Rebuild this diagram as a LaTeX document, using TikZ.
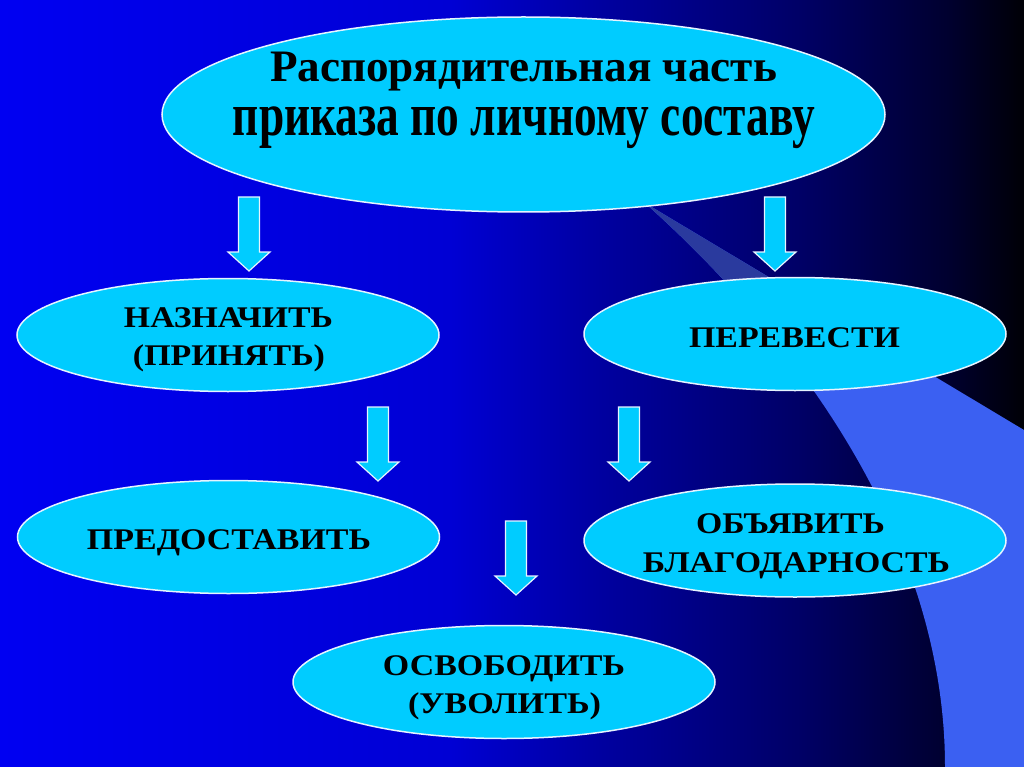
\documentclass[tikz,border=0pt]{standalone}
\usepackage{fontspec}
\setmainfont{Liberation Serif}
\usepackage{graphicx}
\usetikzlibrary{shapes.geometric}
\definecolor{cyanfill}{HTML}{00CCFF}
\definecolor{edgecol}{HTML}{E6F4FF}
\definecolor{bandbright}{HTML}{3B60F2}
\definecolor{banddim}{HTML}{2A3A9E}
\definecolor{bgA}{HTML}{0000F2}
\definecolor{bgB}{HTML}{0000D4}
\definecolor{bgC}{HTML}{0000A0}
\definecolor{bgD}{HTML}{000066}
\definecolor{bgE}{HTML}{00002E}
\definecolor{bgF}{HTML}{000006}
\pgfdeclarehorizontalshading{bgshade}{100bp}{color(0bp)=(bgA); color(25bp)=(bgA); color(46.97bp)=(bgB); color(54.3bp)=(bgC); color(64.06bp)=(bgD); color(71.39bp)=(bgE); color(75bp)=(bgF); color(100bp)=(bgF)}
\tikzset{
  oval/.style={ellipse, draw=edgecol, line width=1.5pt, fill=cyanfill, inner sep=0pt,
    minimum width=422pt, minimum height=113pt},
  blockarrow/.style={fill=cyanfill, draw=edgecol, line width=1.2pt, line join=miter},
  lbl/.style={inner sep=0pt, anchor=base, text=black, font=\fontsize{30}{36}\selectfont\bfseries}
}
\newcommand\fitw[2]{\resizebox{#1pt}{\height}{#2}}
\newcommand\downarrowat[1]{%
  \draw[blockarrow] (#1) ++(-10.5,0) -- ++(21,0) -- ++(0,55) -- ++(10.5,0)
    -- ++(-21,19) -- ++(-21,-19) -- ++(10.5,0) -- cycle;}
\begin{document}
\begin{tikzpicture}[x=1pt,y=-1pt]
\useasboundingbox (0,0) rectangle (1024,767);
% background
\shade[shading=bgshade] (0,0) rectangle (1024,767);
% light band
\fill[bandbright] (645,203) -- (1024,430) -- (1024,767) -- (945,767)
  .. controls (945,537) and (795,337) .. (645,203) -- cycle;
\begin{scope}
  \clip (0,0) rectangle (1024,335);
  \fill[banddim] (645,203) -- (1024,430) -- (1024,767) -- (945,767)
    .. controls (945,537) and (795,337) .. (645,203) -- cycle;
\end{scope}
% ellipses
\node[oval, minimum width=723pt, minimum height=195pt] (top) at (523.5,114.5) {};
\node[oval] (nazn)  at (228,335) {};
\node[oval] (perev) at (795,334) {};
\node[oval] (pred)  at (228.5,537) {};
\node[oval] (obyav) at (795,540.5) {};
\node[oval] (osvob) at (504,682) {};
% arrows
\coordinate (a1) at (249,197);
\coordinate (a2) at (775,197);
\coordinate (a3) at (378,407);
\coordinate (a4) at (629,407);
\coordinate (a5) at (516,521);
\downarrowat{a1}
\downarrowat{a2}
\downarrowat{a3}
\downarrowat{a4}
\downarrowat{a5}
% texts
\node[lbl, font=\fontsize{45}{54}\selectfont\bfseries] (h1) at (523.5,82) {\fitw{507}{Распорядительная часть}};
\node[lbl, font=\fontsize{61}{70}\selectfont\bfseries] (h2) at (524,136) {\fitw{582}{приказа по личному составу}};
\node[lbl] (t1) at (228.5,327) {\fitw{209}{НАЗНАЧИТЬ}};
\node[lbl] (t2) at (229,365) {\fitw{192}{(ПРИНЯТЬ)}};
\node[lbl] (t3) at (794.5,347) {\fitw{211}{ПЕРЕВЕСТИ}};
\node[lbl] (t4) at (229,549) {\fitw{284}{ПРЕДОСТАВИТЬ}};
\node[lbl] (t5) at (790.5,533) {\fitw{189}{ОБЪЯВИТЬ}};
\node[lbl] (t6) at (796.5,572) {\fitw{307}{БЛАГОДАРНОСТЬ}};
\node[lbl] (t7) at (504,675) {\fitw{242}{ОСВОБОДИТЬ}};
\node[lbl] (t8) at (504.5,713) {\fitw{193}{(УВОЛИТЬ)}};
\end{tikzpicture}
\end{document}
